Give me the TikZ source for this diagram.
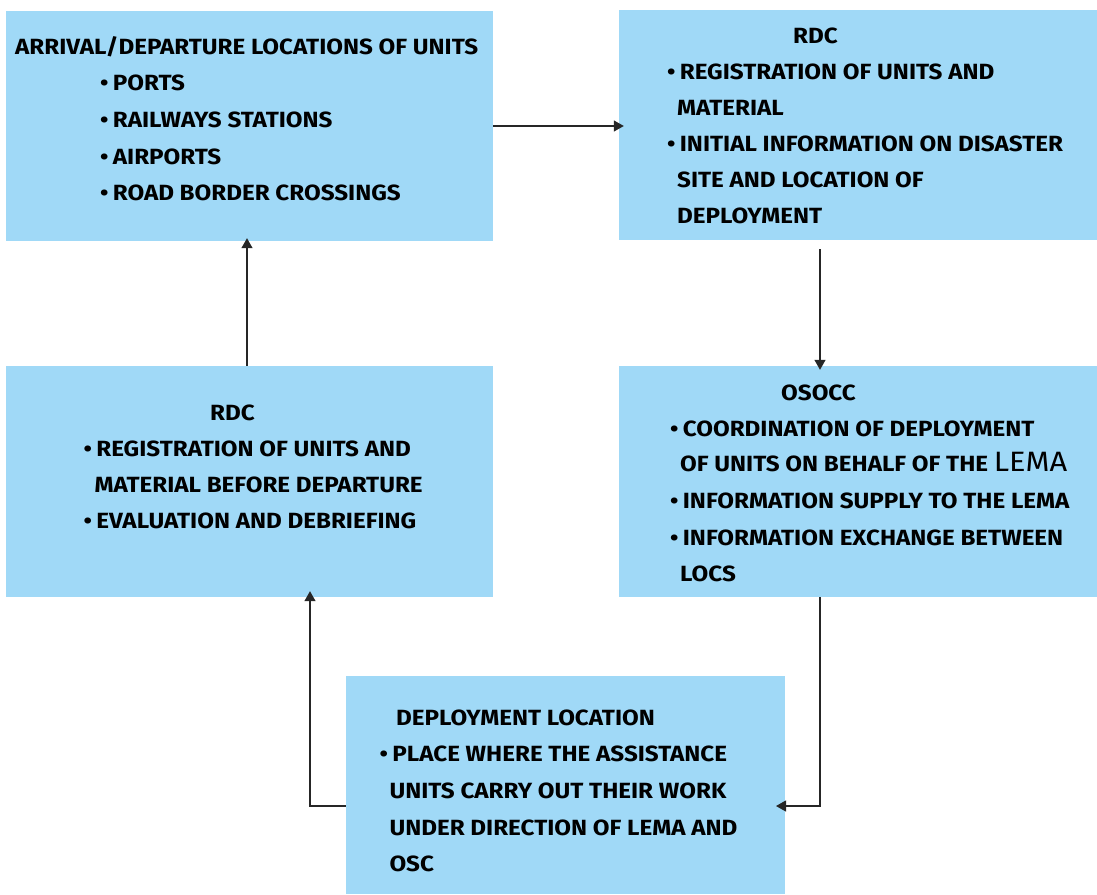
\documentclass[tikz,border=0pt]{standalone}
\usepackage{fontspec}
\setmainfont{Fira Sans}[FakeStretch=1.10]
\usetikzlibrary{arrows.meta}
\definecolor{boxblue}{RGB}{160,217,247}
\newcommand{\bl}[1]{\makebox[12.7pt][l]{\textbullet}#1}
\begin{document}
\begin{tikzpicture}[x=1pt,y=-1pt,
  box/.style={fill=boxblue, draw=none, inner sep=0pt, rectangle},
  txt/.style={anchor=base west, inner sep=0pt, font=\fontsize{22}{26}\selectfont\bfseries},
  arr/.style={draw=black!85, line width=1.2pt, -{Triangle[length=10pt,width=11pt]}}]
\useasboundingbox (0,0) rectangle (1097,894);

% boxes
\node[box, minimum width=487pt, minimum height=230pt] (b1) at (249.5,126) {};
\node[box, minimum width=478pt, minimum height=230pt] (b2) at (858,125) {};
\node[box, minimum width=487pt, minimum height=231pt] (b3) at (249.5,481.5) {};
\node[box, minimum width=478pt, minimum height=231pt] (b4) at (858,481.5) {};
\node[box, minimum width=439pt, minimum height=218pt] (b5) at (565.5,785) {};

% arrival / departure locations
\node[txt] (t1a) at (15,54.5) {ARRIVAL/DEPARTURE LOCATIONS OF UNITS};
\node[txt] (t1b) at (100,90.7) {\bl{PORTS}};
\node[txt] (t1c) at (100,127.5) {\bl{RAILWAYS STATIONS}};
\node[txt] (t1d) at (100,164.5) {\bl{AIRPORTS}};
\node[txt] (t1e) at (100,200) {\bl{ROAD BORDER CROSSINGS}};

% RDC on arrival
\node[txt] (t2a) at (793,43.3) {RDC};
\node[txt] (t2b) at (667,79) {\bl{REGISTRATION OF UNITS AND}};
\node[txt] (t2c) at (677,115) {MATERIAL};
\node[txt] (t2d) at (667,151.7) {\bl{INITIAL INFORMATION ON DISASTER}};
\node[txt] (t2e) at (677,187.7) {SITE AND LOCATION OF};
\node[txt] (t2f) at (677,223.3) {DEPLOYMENT};

% RDC on departure
\node[txt] (t3a) at (210,420) {RDC};
\node[txt] (t3b) at (83.5,456.7) {\bl{REGISTRATION OF UNITS AND}};
\node[txt] (t3c) at (94.3,492.7) {MATERIAL BEFORE DEPARTURE};
\node[txt] (t3d) at (83.5,528.3) {\bl{EVALUATION AND DEBRIEFING}};

% OSOCC
\node[txt] (t4a) at (781,400) {OSOCC};
\node[txt] (t4b) at (670,436) {\bl{COORDINATION OF DEPLOYMENT}};
\node[txt] (t4c) at (680,471.7) {OF UNITS ON BEHALF OF THE {\mdseries\fontsize{28}{30}\selectfont LEMA}};
\node[txt] (t4d) at (670,508.3) {\bl{INFORMATION SUPPLY TO THE LEMA}};
\node[txt] (t4e) at (670,545) {\bl{INFORMATION EXCHANGE BETWEEN}};
\node[txt] (t4f) at (680,581) {LOCS};

% deployment location
\node[txt] (t5a) at (396,725) {DEPLOYMENT LOCATION};
\node[txt] (t5b) at (379.5,761.7) {\bl{PLACE WHERE THE ASSISTANCE}};
\node[txt] (t5c) at (389.3,798.3) {UNITS CARRY OUT THEIR WORK};
\node[txt] (t5d) at (389.3,835) {UNDER DIRECTION OF LEMA AND};
\node[txt] (t5e) at (389.3,871) {OSC};

% connector waypoints
\coordinate (p2) at (820,249);
\coordinate (p3) at (820,806);
\coordinate (p3e) at (776,806);
\coordinate (p4) at (310,806);
\coordinate (p5) at (247,0);

% connectors
\draw[arr, shorten >=-5pt] (b1.east) -- (b1.east -| b2.west);
\draw[arr, shorten >=-4pt] (p2) -- (b4.north -| p2);
\draw[arr] (b4.south -| p3) -- (p3) -- (p3e);
\draw[arr, shorten >=-6pt] (b5.west |- p4) -- (p4) -- (b3.south -| p4);
\draw[arr, shorten >=-3pt] (b3.north -| p5) -- (b1.south -| p5);
\end{tikzpicture}
\end{document}
